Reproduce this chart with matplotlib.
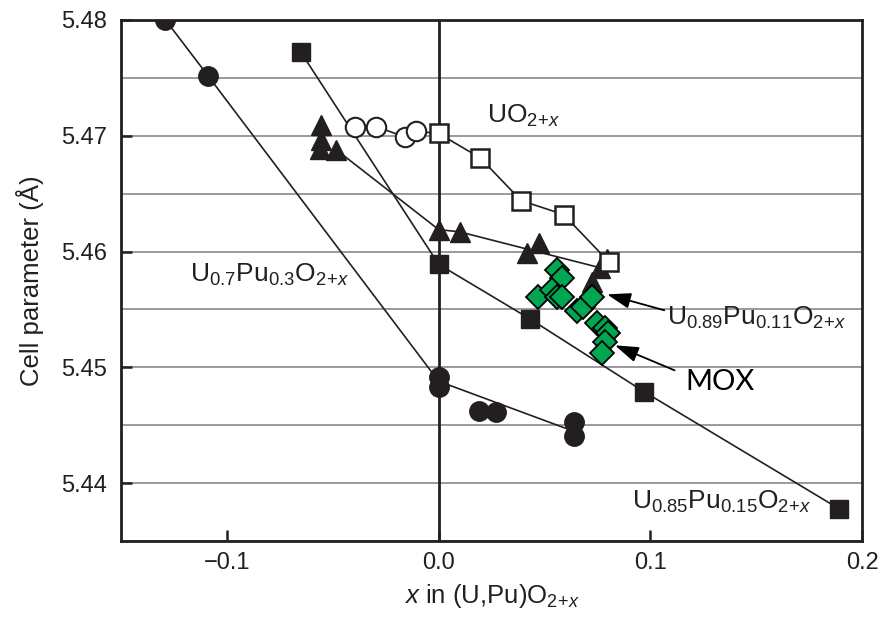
import matplotlib
matplotlib.use('Agg')
import matplotlib.pyplot as plt
from matplotlib.ticker import MultipleLocator, FixedLocator

plt.rcParams['font.family'] = ['Liberation Sans', 'DejaVu Sans']
plt.rcParams['mathtext.fontset'] = 'custom'
plt.rcParams['mathtext.rm'] = 'Liberation Sans'
plt.rcParams['mathtext.it'] = 'Liberation Sans:italic'

# U0.7Pu0.3O2+x (filled circles)
circ_x = [-0.129, -0.109, 0.0, 0.0, 0.019, 0.027, 0.064, 0.064]
circ_y = [5.4800, 5.4752, 5.4492, 5.4483, 5.4462, 5.4461, 5.4453, 5.4441]
circ_line_x = [-0.129, -0.109, 0.0, 0.062]
circ_line_y = [5.4800, 5.4752, 5.4488, 5.4446]

# U0.85Pu0.15O2+x (filled squares)
sq_x = [-0.065, 0.0, 0.043, 0.097, 0.189]
sq_y = [5.4772, 5.4589, 5.4542, 5.4479, 5.4378]

# U0.89Pu0.11O2+x (filled triangles)
tri_x = [-0.0555, -0.0555, -0.056, -0.0484, 0.0, 0.010, 0.0418, 0.0474, 0.0796, 0.0763, 0.0725]
tri_y = [5.4709, 5.4696, 5.4689, 5.4688, 5.4619, 5.4617, 5.4599, 5.4607, 5.4594, 5.4586, 5.4574]
tri_line_x = [-0.0484, 0.0, 0.010, 0.0763]
tri_line_y = [5.4688, 5.4619, 5.4617, 5.4586]

# UO2+x (open circles, open squares)
ocirc_x = [-0.0395, -0.0296, -0.016, -0.0107]
ocirc_y = [5.4708, 5.4708, 5.4699, 5.4704]
osq_x = [0.0, 0.0196, 0.039, 0.059, 0.0805]
osq_y = [5.4702, 5.4681, 5.4644, 5.4632, 5.4591]

# MOX (green diamonds)
mox_x = [0.056, 0.0583, 0.047, 0.0536, 0.056, 0.0583, 0.0654, 0.068, 0.0725, 0.0748, 0.0786, 0.080, 0.0786, 0.0772]
mox_y = [5.4584, 5.4577, 5.4561, 5.4567, 5.4561, 5.4561, 5.4549, 5.4552, 5.4561, 5.4538, 5.4534, 5.4530, 5.4522, 5.4512]

ink = '#231f20'

fig = plt.figure(figsize=(8.79, 6.19), dpi=100)
ax = fig.add_axes([0.1377, 0.126, 0.843, 0.8417])

ax.set_xlim(-0.15, 0.2)
ax.set_ylim(5.435, 5.48)

ax.yaxis.set_major_locator(FixedLocator([5.44, 5.45, 5.46, 5.47, 5.48]))
ax.yaxis.set_minor_locator(MultipleLocator(0.005))
ax.xaxis.set_major_locator(FixedLocator([-0.1, 0.0, 0.1, 0.2]))
ax.set_xticklabels(['\u22120.1', '0.0', '0.1', '0.2'])
ax.set_yticklabels(['5.44', '5.45', '5.46', '5.47', '5.48'])
ax.grid(axis='y', which='both', color='#9a9a9a', lw=1.4, zorder=0)
ax.set_axisbelow(True)
ax.tick_params(which='major', direction='in', length=8, width=1.8, color=ink,
               labelsize=17, labelcolor=ink)
ax.tick_params(axis='x', pad=8)
ax.tick_params(axis='y', pad=10)
ax.tick_params(which='minor', length=0)
for s in ax.spines.values():
    s.set_linewidth(2)
    s.set_color(ink)

ax.axvline(0, color=ink, lw=2, zorder=1)

lw = 1.2
ax.plot(circ_line_x, circ_line_y, color=ink, lw=lw, zorder=2)
ax.plot(sq_x, sq_y, color=ink, lw=lw, zorder=2)
ax.plot(tri_line_x, tri_line_y, color=ink, lw=lw, zorder=2)
ax.plot(ocirc_x + osq_x[:1], ocirc_y + osq_y[:1], color=ink, lw=lw, zorder=2)
ax.plot(osq_x, osq_y, color=ink, lw=lw, zorder=2)

ax.plot(circ_x, circ_y, 'o', ms=14, color=ink, zorder=3)
ax.plot(sq_x, sq_y, 's', ms=13, color=ink, zorder=3)
ax.plot(tri_x, tri_y, '^', ms=14.5, color=ink, zorder=3)
ax.plot(ocirc_x, ocirc_y, 'o', ms=14, mfc='white', mec=ink, mew=1.5, zorder=3)
ax.plot(osq_x, osq_y, 's', ms=12.5, mfc='white', mec=ink, mew=1.8, zorder=3)
ax.plot(mox_x, mox_y, 'D', ms=12.5, mfc='#00a651', mec='black', mew=1.3, zorder=4)

tfs = 19
ax.text(0.0229, 5.4711, r'UO$_{2\!+\!x}$', fontsize=tfs, color=ink)
ax.text(-0.1174, 5.4574, r'U$_{0.7}$Pu$_{0.3}$O$_{2\!+\!x}$', fontsize=tfs, color=ink)
ax.text(0.0914, 5.4378, r'U$_{0.85}$Pu$_{0.15}$O$_{2\!+\!x}$', fontsize=tfs, color=ink)
ax.annotate(r'U$_{0.89}$Pu$_{0.11}$O$_{2\!+\!x}$', xy=(0.0796, 5.4563), xytext=(0.1079, 5.4537),
            fontsize=tfs, color=ink,
            arrowprops=dict(arrowstyle='-|>,head_length=0.9,head_width=0.3', color='black',
                            lw=1.3, mutation_scale=16, shrinkA=0, shrinkB=0,
                            relpos=(0.0, 0.75)))
ax.annotate('MOX', xy=(0.0833, 5.4519), xytext=(0.1164, 5.448),
            fontsize=21, family='Lato', color='black',
            arrowprops=dict(arrowstyle='-|>,head_length=0.9,head_width=0.3', color='black',
                            lw=1.3, mutation_scale=16, shrinkA=6, shrinkB=0,
                            relpos=(0.0, 0.8)))

ax.set_xlabel(r'$x$ in (U,Pu)O$_{2\!+\!x}$', fontsize=18.5, color=ink, labelpad=6)
ax.set_ylabel('Cell parameter (\u00c5)', fontsize=18.5, color=ink, labelpad=12)

fig.savefig('out.png', dpi=100)
